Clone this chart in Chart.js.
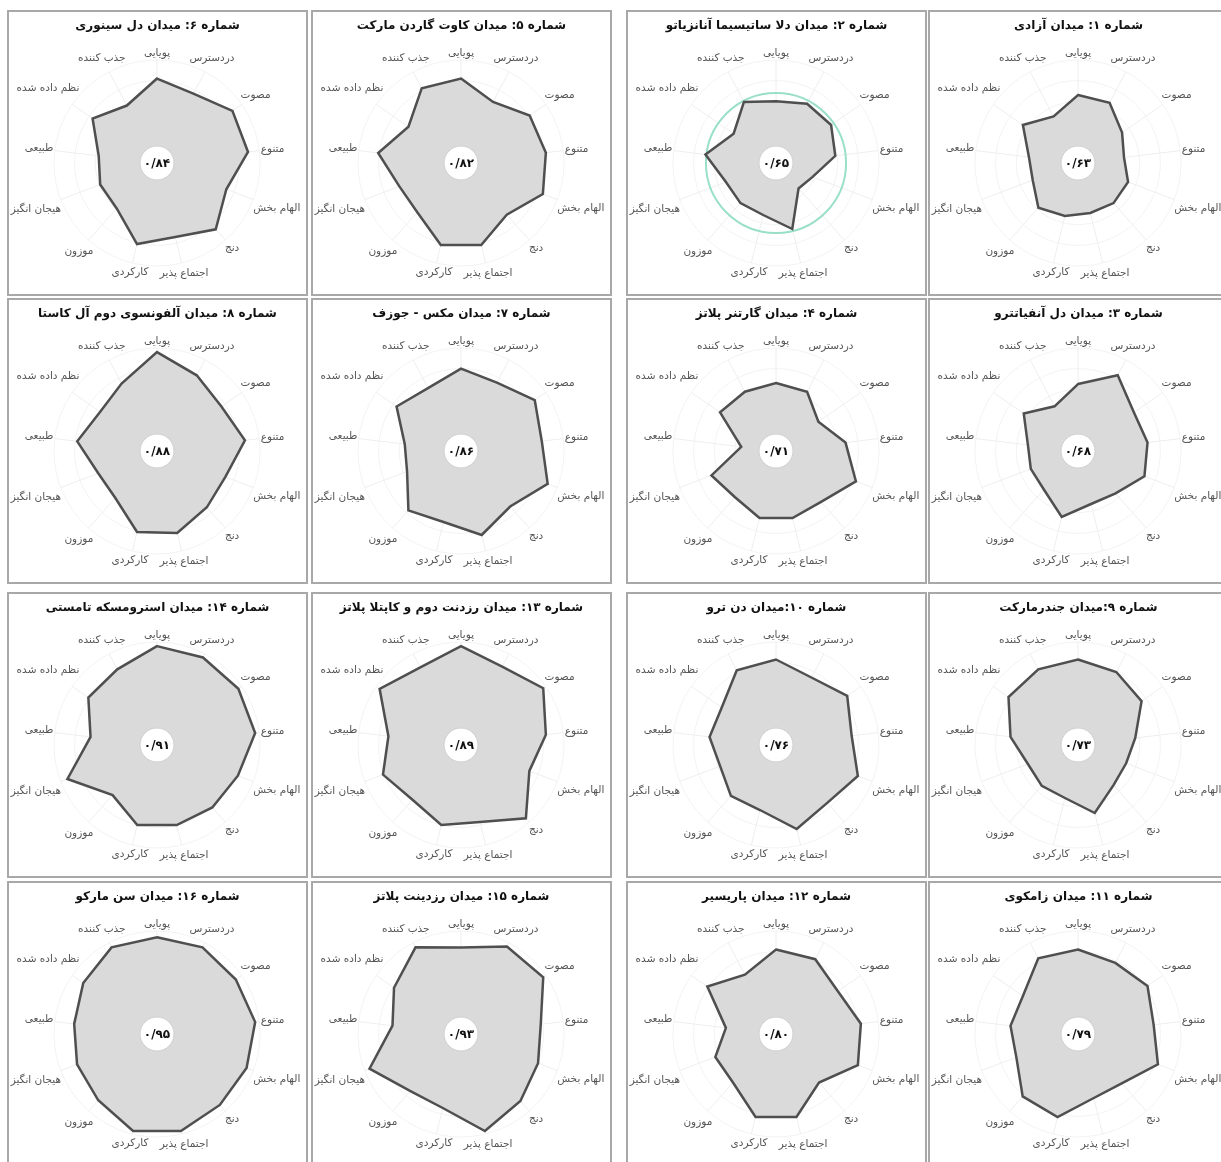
<!DOCTYPE html>
<html lang="fa">
<head>
<meta charset="utf-8">
<script src="https://cdn.jsdelivr.net/npm/chart.js@4.4.1/dist/chart.umd.min.js"></script>
<style>
  html, body { margin: 0; padding: 0; background: #fff; }
  body { width: 1221px; height: 1162px; overflow: hidden; position: relative; }
  .panel { position: absolute; box-sizing: border-box; border: 2px solid #a8a8a8; background: #fff; }
  .panel canvas { display: block; }
</style>
</head>
<body>
<script>
// axis labels, clockwise from the top
const axisLabels = ['پویایی', 'دردسترس', 'مصوت', 'متنوع', 'الهام بخش', 'دنج', 'اجتماع پذیر',
  'کارکردی', 'موزون', 'هیجان انگیز', 'طبیعی', 'نظم داده شده', 'جذب کننده'];

const titles = [
  'شماره ۱: میدان آزادی',
  'شماره ۲: میدان دلا ساتیسیما آنانزیاتو',
  'شماره ۳: میدان دل آنفیاتترو',
  'شماره ۴: میدان گارتنر پلاتز',
  'شماره ۵: میدان کاوت گاردن مارکت',
  'شماره ۶: میدان دل سینوری',
  'شماره ۷: میدان مکس - جوزف',
  'شماره ۸: میدان آلفونسوی دوم آل کاستا',
  'شماره ۹:میدان جندرمارکت',
  'شماره ۱۰:میدان دن ترو',
  'شماره ۱۱: میدان زامکوی',
  'شماره ۱۲: میدان پاریسیر',
  'شماره ۱۳: میدان رزدنت دوم و کاپتلا پلاتز',
  'شماره ۱۴: میدان استرومسکه تامستی',
  'شماره ۱۵: میدان رزدینت پلاتز',
  'شماره ۱۶: میدان سن مارکو'
];

// overall score shown in the middle of each chart
const scores = [0.63, 0.65, 0.68, 0.71, 0.82, 0.84, 0.86, 0.88, 0.73, 0.76, 0.79, 0.80, 0.89, 0.91, 0.93, 0.95];

// values per square, same order as axisLabels
const sq1 = [0.66, 0.66, 0.52, 0.45, 0.52, 0.52, 0.50, 0.53, 0.58, 0.47, 0.48, 0.65, 0.51];
const sq2 = [0.60, 0.65, 0.65, 0.58, 0.38, 0.33, 0.66, 0.52, 0.52, 0.52, 0.69, 0.50, 0.67];
const sq3 = [0.65, 0.83, 0.66, 0.68, 0.69, 0.55, 0.53, 0.66, 0.50, 0.49, 0.49, 0.64, 0.49];
const sq4 = [0.66, 0.65, 0.50, 0.68, 0.83, 0.66, 0.67, 0.67, 0.60, 0.67, 0.34, 0.66, 0.65];
const sq5 = [0.82, 0.67, 0.81, 0.83, 0.85, 0.67, 0.82, 0.82, 0.64, 0.64, 0.81, 0.62, 0.82];
const sq6 = [0.82, 0.76, 0.89, 0.89, 0.72, 0.86, 0.74, 0.81, 0.59, 0.59, 0.57, 0.76, 0.63];
const sq7 = [0.80, 0.75, 0.87, 0.79, 0.90, 0.72, 0.84, 0.71, 0.77, 0.56, 0.55, 0.76, 0.69];
const sq8 = [0.96, 0.83, 0.76, 0.86, 0.71, 0.73, 0.82, 0.81, 0.61, 0.61, 0.78, 0.67, 0.74];
const sq9 = [0.83, 0.80, 0.75, 0.56, 0.50, 0.52, 0.68, 0.53, 0.53, 0.52, 0.66, 0.82, 0.83];
const sq10 = [0.83, 0.74, 0.84, 0.74, 0.85, 0.75, 0.84, 0.65, 0.66, 0.58, 0.65, 0.64, 0.82];
const sq11 = [0.82, 0.78, 0.82, 0.74, 0.83, 0.64, 0.64, 0.83, 0.81, 0.64, 0.66, 0.65, 0.83];
const sq12 = [0.82, 0.82, 0.73, 0.83, 0.85, 0.63, 0.83, 0.83, 0.63, 0.63, 0.49, 0.81, 0.65];
const sq13 = [0.96, 0.86, 0.97, 0.83, 0.71, 0.95, 0.77, 0.80, 0.71, 0.81, 0.71, 0.96, 0.85];
const sq14 = [0.96, 0.96, 0.96, 0.96, 0.84, 0.81, 0.80, 0.80, 0.65, 0.93, 0.65, 0.81, 0.83];
const sq15 = [0.84, 0.96, 0.97, 0.78, 0.80, 0.87, 0.97, 0.74, 0.74, 0.95, 0.67, 0.79, 0.95];
const sq16 = [0.94, 0.95, 0.93, 0.96, 0.93, 0.92, 0.97, 0.97, 0.86, 0.83, 0.81, 0.87, 0.95];

const series = [sq1, sq2, sq3, sq4, sq5, sq6, sq7, sq8, sq9, sq10, sq11, sq12, sq13, sq14, sq15, sq16];

// which square sits in which cell of the 4x4 sheet
const grid = [[6, 5, 2, 1], [8, 7, 4, 3], [14, 13, 10, 9], [16, 15, 12, 11]];

const colLeft = [7, 311, 626, 928];
const rowTop = [10, 298, 592, 881];
const PW = 301, PH = 286;
const FONT = "'DejaVu Sans', sans-serif";

const faDigits = s => s.replace(/[0-9]/g, d => '۰۱۲۳۴۵۶۷۸۹'[d]);

const radarDecor = {
    id: 'radarDecor',
    beforeDatasetsDraw(chart, args, opts) {
        if (opts.ring == null) return;
        const r = chart.scales.r;
        const ctx = chart.ctx;
        ctx.save();
        ctx.beginPath();
        ctx.arc(r.xCenter, r.yCenter, r.getDistanceFromCenterForValue(opts.ring), 0, Math.PI * 2);
        ctx.strokeStyle = '#9adfca';
        ctx.lineWidth = 2;
        ctx.stroke();
        ctx.restore();
    },
    afterDatasetsDraw(chart, args, opts) {
        const r = chart.scales.r;
        const ctx = chart.ctx;
        ctx.save();
        ctx.font = '10.5px ' + FONT;
        ctx.fillStyle = '#555';
        ctx.textAlign = 'center';
        ctx.textBaseline = 'middle';
        const target = r.drawingArea + 1;
        chart.data.labels.forEach(function (lab, i) {
            const hw = ctx.measureText(lab).width / 2, hh = 6;
            let lo = 0, hi = r.drawingArea + 160;
            for (let k = 0; k < 30; k++) {
                const mid = (lo + hi) / 2;
                const p = r.getPointPosition(i, mid);
                const dx = Math.max(Math.abs(p.x - r.xCenter) - hw, 0);
                const dy = Math.max(Math.abs(p.y - r.yCenter) - hh, 0);
                if (Math.hypot(dx, dy) < target) lo = mid; else hi = mid;
            }
            const p = r.getPointPosition(i, hi);
            ctx.fillText(lab, p.x, p.y);
        });
        // score bubble
        ctx.beginPath();
        ctx.arc(r.xCenter, r.yCenter, 17, 0, Math.PI * 2);
        ctx.fillStyle = '#fff';
        ctx.fill();
        ctx.strokeStyle = '#cfcfcf';
        ctx.lineWidth = 1;
        ctx.stroke();
        ctx.font = 'bold 12px ' + FONT;
        ctx.fillStyle = '#111';
        ctx.fillText(opts.score, r.xCenter, r.yCenter + 1);
        ctx.restore();
    }
};

grid.forEach(function (row, ri) {
    row.forEach(function (n, ci) {
        const box = document.createElement('div');
        box.className = 'panel';
        box.style.left = colLeft[ci] + 'px';
        box.style.top = rowTop[ri] + 'px';
        box.style.width = PW + 'px';
        box.style.height = PH + 'px';
        const canvas = document.createElement('canvas');
        canvas.width = PW - 4;
        canvas.height = PH - 4;
        canvas.dir = 'rtl';
        box.appendChild(canvas);
        document.body.appendChild(box);

        new Chart(canvas, {
            type: 'radar',
            data: {
                labels: axisLabels,
                datasets: [{
                    data: series[n - 1],
                    backgroundColor: '#dadada',
                    borderColor: '#4f4f4f',
                    borderWidth: 2.5,
                    pointRadius: 0,
                    fill: true,
                    tension: 0,
                }],
            },
            options: {
                responsive: false,
                animation: false,
                devicePixelRatio: 1,
                layout: { padding: { top: 0, bottom: PH - 4 - 48.4 - 206, left: 0, right: 0 } },
                plugins: {
                    legend: { display: false },
                    tooltip: { enabled: false },
                    title: {
                        display: true,
                        text: titles[n - 1],
                        color: '#111',
                        font: { family: FONT, size: 12, weight: 'bold' },
                        padding: { top: 7, bottom: 27 },
                    },
                    radarDecor: {
                        score: faDigits(scores[n - 1].toFixed(2).replace('.', '/')),
                        ring: n === 2 ? 0.68 : null,
                    },
                },
                scales: {
                    r: {
                        min: 0,
                        max: 1,
                        ticks: { display: false, stepSize: 0.2 },
                        pointLabels: { display: false },
                        grid: { circular: true, color: '#f3f3f3' },
                        angleLines: { color: '#eeeeee' },
                    },
                },
            },
            plugins: [radarDecor],
        });
    });
});
</script>
</body>
</html>
